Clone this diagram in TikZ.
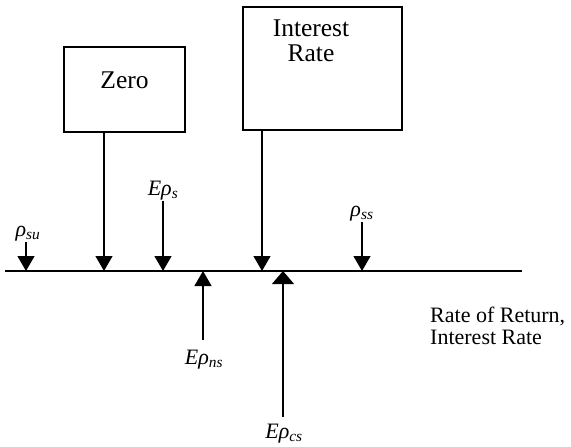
\documentclass[tikz,border=0pt]{standalone}
\usepackage{fontspec}
\setmainfont{Liberation Serif}
\usetikzlibrary{arrows.meta, positioning}

\begin{document}
\begin{tikzpicture}[x=1pt, y=-1pt,
    tip/.style={-{Triangle[width=17pt, length=15pt]}, line width=1.3pt},
    box/.style={draw, line width=1.4pt, inner sep=0pt},
    boxtxt/.style={font=\fontsize{25.5}{25}\selectfont, align=center, inner sep=0pt},
    sym/.style={font=\fontsize{22}{22}\selectfont\itshape, inner sep=1pt}]
    \useasboundingbox (0,0) rectangle (571,447);

    % 1. Trục lãi suất
    \coordinate (axl) at (5,271);
    \coordinate (axr) at (522,271);
    \draw[line width=2pt] (axl) -- (axr);
    \node[anchor=north west, align=left, inner sep=0pt,
          font=\fontsize{22}{21.5}\selectfont] (axlbl) at (430,307) {Rate of Return,\\Interest Rate};

    % các điểm trên trục
    \coordinate (psu) at (26,271);
    \coordinate (pz) at (104,271);
    \coordinate (pes) at (163,271);
    \coordinate (pns) at (203,271);
    \coordinate (pir) at (262,271);
    \coordinate (pcs) at (283,271);
    \coordinate (pss) at (362,271);

    % 2. Hai hộp
    \node[box, minimum width=121pt, minimum height=85pt] (zero) at (124.5,89.5) {};
    \node[boxtxt] (zerotxt) at (124.5,80) {Zero};
    \node[box, minimum width=159pt, minimum height=123pt] (irate) at (322.5,68.5) {};
    \node[boxtxt] (iratetxt) at (311,41) {Interest\\Rate};

    \draw[tip] (zero.south -| pz) -- (pz);
    \draw[tip] (irate.south -| pir) -- (pir);

    % 3. Mũi tên xuống
    \node[sym, anchor=south] (lsu) at (28,242) {ρ\textsubscript{su}};
    \draw[tip] (lsu.south -| psu) -- (psu);

    \node[sym, anchor=south] (les) at (163,201) {Eρ\textsubscript{s}};
    \draw[tip] (les.south -| pes) -- (pes);

    \node[sym, anchor=south] (lss) at (362,222) {ρ\textsubscript{ss}};
    \draw[tip] (lss.south -| pss) -- (pss);

    % 4. Mũi tên lên
    \node[sym, anchor=north] (lns) at (204,349) {Eρ\textsubscript{ns}};
    \draw[tip, shorten <=9pt] (lns.north -| pns) -- (pns);

    \node[sym, anchor=north] (lcs) at (284,423) {Eρ\textsubscript{cs}};
    \draw[-{Triangle[width=22pt, length=13pt]}, line width=1.3pt, shorten <=6pt] (lcs.north -| pcs) -- (pcs);

\end{tikzpicture}
\end{document}
